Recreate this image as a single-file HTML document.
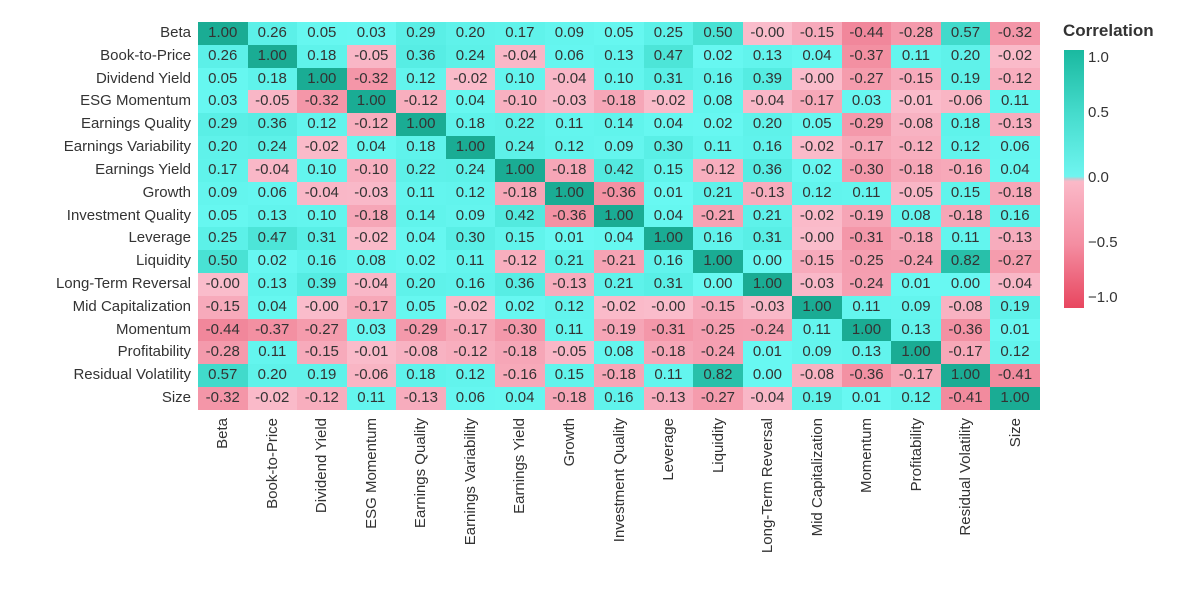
<!DOCTYPE html>
<html><head><meta charset="utf-8">
<style>
body{margin:0;width:1200px;height:600px;background:#fff;font-family:"Liberation Sans",sans-serif;color:#333;overflow:hidden;position:relative}
#grid{position:absolute;left:198px;top:22px;width:842px}
#grid div{display:flex;height:22.82px}
#grid i{font-style:normal;width:49.53px;text-align:center;line-height:22.82px;font-size:15px;color:#333}
#yl{position:absolute;left:0;top:22px;width:191px;text-align:right}
#yl div{height:22.82px;line-height:22.82px;font-size:15px}
#xl{position:absolute;left:198px;top:418px}
#xl div{position:absolute;top:0;width:180px;text-align:right;font-size:15px;transform-origin:0 0;transform:translateY(180px) rotate(-90deg);white-space:nowrap;line-height:18px}
#cb{position:absolute;left:1064px;top:50px;width:20px;height:258px;background:linear-gradient(to bottom,#1ab9a0 0%,#46dccd 25%,#6ff5f0 49%,#c8c8d0 50%,#fbb9c8 51%,#f48ea2 75%,#e8465f 100%)}
.t{position:absolute;left:1088px;font-size:15px}
</style></head><body>
<div style="position:absolute;left:1063px;top:21px;font-size:17px;font-weight:bold;color:#333">Correlation</div>
<div id="cb"></div>
<div class="t" style="top:49px">1.0</div>
<div class="t" style="top:104px">0.5</div>
<div class="t" style="top:169px">0.0</div>
<div class="t" style="top:234px">−0.5</div>
<div class="t" style="top:289px">−1.0</div>
<div id="yl">
<div>Beta</div><div>Book-to-Price</div><div>Dividend Yield</div><div>ESG Momentum</div><div>Earnings Quality</div><div>Earnings Variability</div><div>Earnings Yield</div><div>Growth</div><div>Investment Quality</div><div>Leverage</div><div>Liquidity</div><div>Long-Term Reversal</div><div>Mid Capitalization</div><div>Momentum</div><div>Profitability</div><div>Residual Volatility</div><div>Size</div>
</div>
<div id="grid">
<div><i>1.00</i><i>0.26</i><i>0.05</i><i>0.03</i><i>0.29</i><i>0.20</i><i>0.17</i><i>0.09</i><i>0.05</i><i>0.25</i><i>0.50</i><i>-0.00</i><i>-0.15</i><i>-0.44</i><i>-0.28</i><i>0.57</i><i>-0.32</i></div>
<div><i>0.26</i><i>1.00</i><i>0.18</i><i>-0.05</i><i>0.36</i><i>0.24</i><i>-0.04</i><i>0.06</i><i>0.13</i><i>0.47</i><i>0.02</i><i>0.13</i><i>0.04</i><i>-0.37</i><i>0.11</i><i>0.20</i><i>-0.02</i></div>
<div><i>0.05</i><i>0.18</i><i>1.00</i><i>-0.32</i><i>0.12</i><i>-0.02</i><i>0.10</i><i>-0.04</i><i>0.10</i><i>0.31</i><i>0.16</i><i>0.39</i><i>-0.00</i><i>-0.27</i><i>-0.15</i><i>0.19</i><i>-0.12</i></div>
<div><i>0.03</i><i>-0.05</i><i>-0.32</i><i>1.00</i><i>-0.12</i><i>0.04</i><i>-0.10</i><i>-0.03</i><i>-0.18</i><i>-0.02</i><i>0.08</i><i>-0.04</i><i>-0.17</i><i>0.03</i><i>-0.01</i><i>-0.06</i><i>0.11</i></div>
<div><i>0.29</i><i>0.36</i><i>0.12</i><i>-0.12</i><i>1.00</i><i>0.18</i><i>0.22</i><i>0.11</i><i>0.14</i><i>0.04</i><i>0.02</i><i>0.20</i><i>0.05</i><i>-0.29</i><i>-0.08</i><i>0.18</i><i>-0.13</i></div>
<div><i>0.20</i><i>0.24</i><i>-0.02</i><i>0.04</i><i>0.18</i><i>1.00</i><i>0.24</i><i>0.12</i><i>0.09</i><i>0.30</i><i>0.11</i><i>0.16</i><i>-0.02</i><i>-0.17</i><i>-0.12</i><i>0.12</i><i>0.06</i></div>
<div><i>0.17</i><i>-0.04</i><i>0.10</i><i>-0.10</i><i>0.22</i><i>0.24</i><i>1.00</i><i>-0.18</i><i>0.42</i><i>0.15</i><i>-0.12</i><i>0.36</i><i>0.02</i><i>-0.30</i><i>-0.18</i><i>-0.16</i><i>0.04</i></div>
<div><i>0.09</i><i>0.06</i><i>-0.04</i><i>-0.03</i><i>0.11</i><i>0.12</i><i>-0.18</i><i>1.00</i><i>-0.36</i><i>0.01</i><i>0.21</i><i>-0.13</i><i>0.12</i><i>0.11</i><i>-0.05</i><i>0.15</i><i>-0.18</i></div>
<div><i>0.05</i><i>0.13</i><i>0.10</i><i>-0.18</i><i>0.14</i><i>0.09</i><i>0.42</i><i>-0.36</i><i>1.00</i><i>0.04</i><i>-0.21</i><i>0.21</i><i>-0.02</i><i>-0.19</i><i>0.08</i><i>-0.18</i><i>0.16</i></div>
<div><i>0.25</i><i>0.47</i><i>0.31</i><i>-0.02</i><i>0.04</i><i>0.30</i><i>0.15</i><i>0.01</i><i>0.04</i><i>1.00</i><i>0.16</i><i>0.31</i><i>-0.00</i><i>-0.31</i><i>-0.18</i><i>0.11</i><i>-0.13</i></div>
<div><i>0.50</i><i>0.02</i><i>0.16</i><i>0.08</i><i>0.02</i><i>0.11</i><i>-0.12</i><i>0.21</i><i>-0.21</i><i>0.16</i><i>1.00</i><i>0.00</i><i>-0.15</i><i>-0.25</i><i>-0.24</i><i>0.82</i><i>-0.27</i></div>
<div><i>-0.00</i><i>0.13</i><i>0.39</i><i>-0.04</i><i>0.20</i><i>0.16</i><i>0.36</i><i>-0.13</i><i>0.21</i><i>0.31</i><i>0.00</i><i>1.00</i><i>-0.03</i><i>-0.24</i><i>0.01</i><i>0.00</i><i>-0.04</i></div>
<div><i>-0.15</i><i>0.04</i><i>-0.00</i><i>-0.17</i><i>0.05</i><i>-0.02</i><i>0.02</i><i>0.12</i><i>-0.02</i><i>-0.00</i><i>-0.15</i><i>-0.03</i><i>1.00</i><i>0.11</i><i>0.09</i><i>-0.08</i><i>0.19</i></div>
<div><i>-0.44</i><i>-0.37</i><i>-0.27</i><i>0.03</i><i>-0.29</i><i>-0.17</i><i>-0.30</i><i>0.11</i><i>-0.19</i><i>-0.31</i><i>-0.25</i><i>-0.24</i><i>0.11</i><i>1.00</i><i>0.13</i><i>-0.36</i><i>0.01</i></div>
<div><i>-0.28</i><i>0.11</i><i>-0.15</i><i>-0.01</i><i>-0.08</i><i>-0.12</i><i>-0.18</i><i>-0.05</i><i>0.08</i><i>-0.18</i><i>-0.24</i><i>0.01</i><i>0.09</i><i>0.13</i><i>1.00</i><i>-0.17</i><i>0.12</i></div>
<div><i>0.57</i><i>0.20</i><i>0.19</i><i>-0.06</i><i>0.18</i><i>0.12</i><i>-0.16</i><i>0.15</i><i>-0.18</i><i>0.11</i><i>0.82</i><i>0.00</i><i>-0.08</i><i>-0.36</i><i>-0.17</i><i>1.00</i><i>-0.41</i></div>
<div><i>-0.32</i><i>-0.02</i><i>-0.12</i><i>0.11</i><i>-0.13</i><i>0.06</i><i>0.04</i><i>-0.18</i><i>0.16</i><i>-0.13</i><i>-0.27</i><i>-0.04</i><i>0.19</i><i>0.01</i><i>0.12</i><i>-0.41</i><i>1.00</i></div>
</div>
<div id="xl">
<div style="left:16px">Beta</div><div style="left:66px">Book-to-Price</div><div style="left:115px">Dividend Yield</div><div style="left:165px">ESG Momentum</div><div style="left:214px">Earnings Quality</div><div style="left:264px">Earnings Variability</div><div style="left:313px">Earnings Yield</div><div style="left:363px">Growth</div><div style="left:413px">Investment Quality</div><div style="left:462px">Leverage</div><div style="left:512px">Liquidity</div><div style="left:561px">Long-Term Reversal</div><div style="left:611px">Mid Capitalization</div><div style="left:660px">Momentum</div><div style="left:710px">Profitability</div><div style="left:759px">Residual Volatility</div><div style="left:809px">Size</div>
</div>
<script>
function lerp(a,b,t){return a.map((x,i)=>Math.round(x+(b[i]-x)*t));}
function pw(stops,v){for(var i=0;i<stops.length-1;i++){if(v<=stops[i+1][0]){var t=(v-stops[i][0])/(stops[i+1][0]-stops[i][0]);return lerp(stops[i][1],stops[i+1][1],t);}}return stops[stops.length-1][1];}
var P=[[0,[104,248,242]],[0.4,[85,236,226]],[0.7,[50,205,185]],[1,[26,172,148]]];
var N=[[0,[250,188,203]],[0.5,[240,128,148]],[1,[230,70,95]]];
document.querySelectorAll('#grid i').forEach(function(e){var s=e.textContent,v=parseFloat(s);var c=s[0]=='-'?pw(N,-v):pw(P,v);e.style.background='rgb('+c.join(',')+')';});
</script>
</body></html>
